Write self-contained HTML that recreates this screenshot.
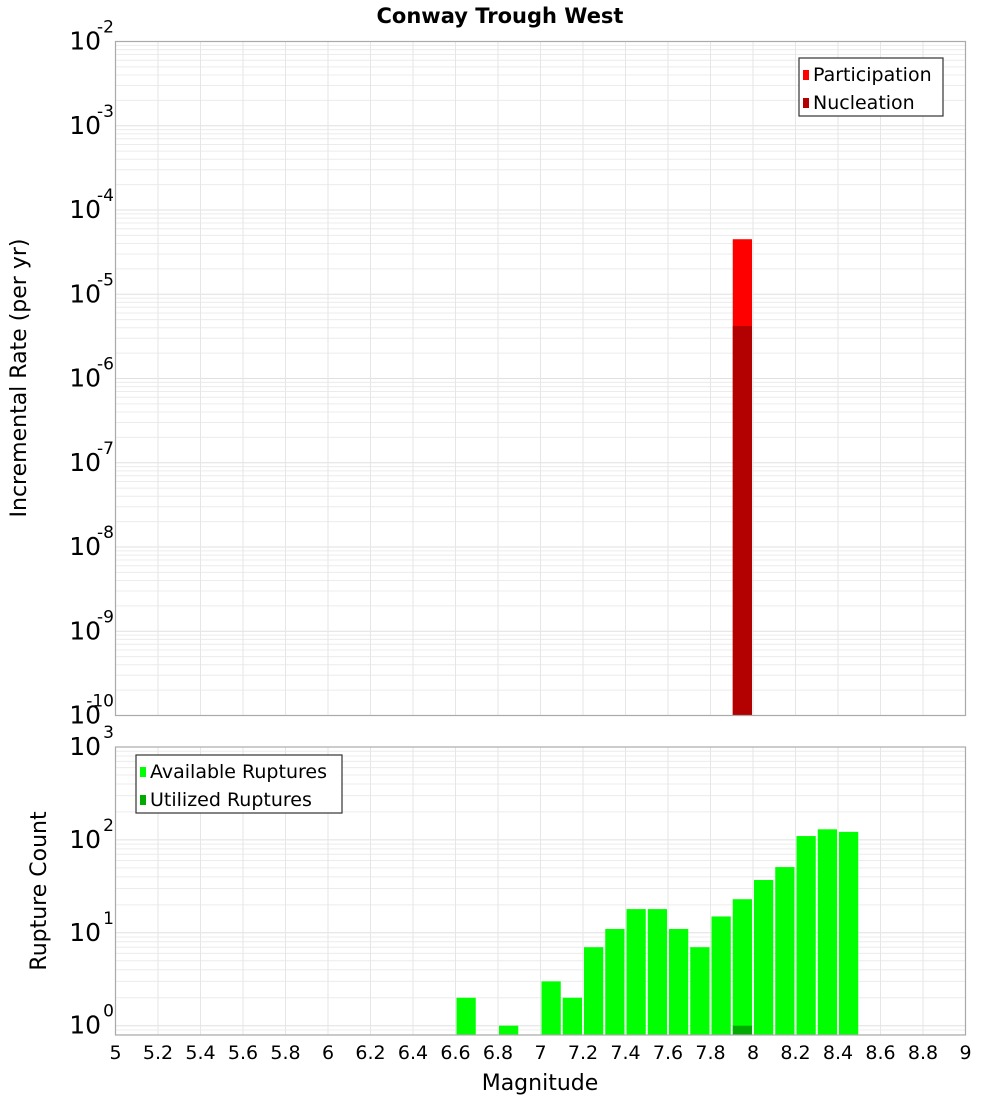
<!DOCTYPE html>
<html><head><meta charset="utf-8"><style>
html,body{margin:0;padding:0;background:#fff}
svg{display:block;font-family:"DejaVu Sans","Liberation Sans",sans-serif}
</style></head><body>
<svg id="chart" width="1000" height="1100" viewBox="0 0 1000 1100" xmlns="http://www.w3.org/2000/svg">
<text x="500" y="23" text-anchor="middle" font-size="21" font-weight="bold">Conway Trough West</text>
<g id="top"></g><g id="bot"></g>
<text transform="translate(26,378) rotate(-90)" text-anchor="middle" font-size="22">Incremental Rate (per yr)</text>
<text transform="translate(46,891) rotate(-90)" text-anchor="middle" font-size="22">Rupture Count</text>
<text x="540" y="1090" text-anchor="middle" font-size="22">Magnitude</text>
</svg>
<script>
// data
const xTicks=[5,5.2,5.4,5.6,5.8,6,6.2,6.4,6.6,6.8,7,7.2,7.4,7.6,7.8,8,8.2,8.4,8.6,8.8,9];
const rateBins=[7.9];
const participation=[4.5e-5];
const nucleation=[4.2e-6];
const countBins=[6.6,6.8,7.0,7.1,7.2,7.3,7.4,7.5,7.6,7.7,7.8,7.9,8.0,8.1,8.2,8.3,8.4];
const available=[2,1,3,2,7,11,18,18,11,7,15,23,37,51,110,130,122];
const utilizedBins=[7.9];
const utilized=[1];
const binWidth=0.1;
const topDecades=[-10,-9,-8,-7,-6,-5,-4,-3,-2];
const botDecades=[0,1,2,3];

const NS="http://www.w3.org/2000/svg";
const L=115.5,R=965.5;
const X=m=>L+(m-5)/4*(R-L);
function mk(parent,tag,attrs){const e=document.createElementNS(NS,tag);for(const k in attrs)e.setAttribute(k,attrs[k]);parent.appendChild(e);return e;}
function panel(g,top,bot,lmin,lmax,decs,name){
  const Y=v=>bot-(Math.log10(v)-lmin)/(lmax-lmin)*(bot-top);
  // grid
  for(let d=Math.floor(lmin);d<lmax;d++){for(let k=1;k<10;k++){const v=k*Math.pow(10,d);const y=Y(v);if(y<top-0.1||y>bot+0.1)continue;
    const ln=mk(g,'line',{x1:L,x2:R,y1:y,y2:y,stroke:k==1?'#e0e0e0':'#ececec','stroke-width':1});
    
    }}
  xTicks.forEach(t=>{const ln=mk(g,'line',{x1:X(t),x2:X(t),y1:top,y2:bot,stroke:'#e6e6e6','stroke-width':1});
    
    });
  decs.forEach(d=>{const y=Y(Math.pow(10,d));
    const t=mk(g,'text',{x:101,y:y+8,'text-anchor':'end','font-size':25});t.textContent='10';
    
    
    const s=mk(g,'text',{x:114,y:y-9,'text-anchor':'end','font-size':17});s.textContent=String(d);
    
    });
  return Y;
}
const gt=document.getElementById('top'),gb=document.getElementById('bot');
const Yt=panel(gt,41.5,715.5,-10,-2,topDecades,'top');
const Yb=panel(gb,747,1035,-0.1,3,botDecades,'bottom');
rateBins.forEach((b,i)=>{
  const r=mk(gt,'rect',{x:X(b)+1,y:Yt(participation[i]),width:X(b+binWidth)-X(b)-2,height:715.5-Yt(participation[i]),fill:'#ff0000'});
  
  
  const n=mk(gt,'rect',{x:X(b)+1,y:Yt(nucleation[i]),width:X(b+binWidth)-X(b)-2,height:715.5-Yt(nucleation[i]),fill:'#b30000'});
  
  
});
countBins.forEach((b,i)=>{
  const r=mk(gb,'rect',{x:X(b)+1,y:Yb(available[i]),width:X(b+binWidth)-X(b)-2,height:1035-Yb(available[i]),fill:'#00ff00'});
  
  
});
utilizedBins.forEach((b,i)=>{
  const r=mk(gb,'rect',{x:X(b)+1,y:Yb(utilized[i]),width:X(b+binWidth)-X(b)-2,height:1035-Yb(utilized[i]),fill:'#00aa00'});
  
  
});
// frames
[[gt,41.5,715.5],[gb,747,1035]].forEach(([g,t,b])=>{const f=mk(g,'rect',{x:L,y:t,width:R-L,height:b-t,fill:'none',stroke:'#aaaaaa','stroke-width':1.2});
  
  });
xTicks.forEach(t=>{const tx=mk(gb,'text',{x:X(t),y:1059,'text-anchor':'middle','font-size':19});tx.textContent=String(t);
  
  });
// legends
function legend(g,x,y,w,items,name){
  const lg=mk(g,'g',{});
  
  
  mk(lg,'rect',{x:x,y:y,width:w,height:58,fill:'#fff',stroke:'#333','stroke-width':1.2});
  items.forEach((it,i)=>{mk(lg,'rect',{x:x+4,y:y+12+i*28,width:6,height:10,fill:it[1]});
    const t=mk(lg,'text',{x:x+14,y:y+23+i*28,'font-size':19});t.textContent=it[0];
    
    });
}
legend(gt,799,58,144,[['Participation','#ff0000'],['Nucleation','#b30000']],'rate-legend');
legend(gb,136,755,206,[['Available Ruptures','#00ff00'],['Utilized Ruptures','#00aa00']],'count-legend');
</script>
</body></html>
